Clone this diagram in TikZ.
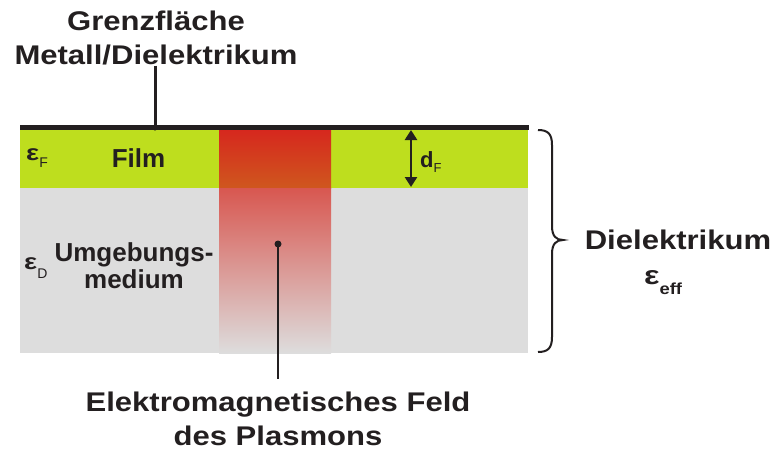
\documentclass[tikz,border=0pt]{standalone}
\usepackage{fontspec}
\setmainfont{Liberation Sans}
\newfontfamily\widefont{Liberation Sans}[FakeStretch=1.15]
\newfontfamily\epsfont{Liberation Sans}[FakeStretch=1.25]
\usetikzlibrary{arrows.meta}

\definecolor{ink}{RGB}{35,31,32}
\definecolor{filmgreen}{RGB}{190,222,30}
\definecolor{mediumgray}{RGB}{221,221,221}
\definecolor{plasred}{RGB}{214,40,30}
\definecolor{filmred}{RGB}{207,87,30}
\definecolor{medred}{RGB}{216,87,80}

\begin{document}
\begin{tikzpicture}[x=1pt,y=-1pt,
  txt/.style={text=ink, inner sep=0pt},
  bigwide/.style={txt, align=center, font=\widefont\fontsize{27}{34}\bfseries\selectfont},
  layerlbl/.style={txt, align=center, font=\fontsize{26}{27}\bfseries\selectfont},
  epsbig/.style={txt, font=\epsfont\fontsize{22}{22}\bfseries\selectfont},
  subtxt/.style={font=\normalfont\fontsize{14}{14}\selectfont},
  pointer/.style={ink, line width=2.5pt},
  thickness/.style={ink, line width=2.5pt, >={Triangle[width=12pt,length=10pt]}, <->}]
\useasboundingbox (0,0) rectangle (773,450);

% layers: surrounding medium and film
\fill[mediumgray] (20,130) rectangle (528,353);
\fill[filmgreen] (20,130) rectangle (528,188);

% electromagnetic field of the plasmon, fading downwards
\shade[top color=plasred, bottom color=filmred] (219,130) rectangle (331,188);
\shade[top color=medred, bottom color=mediumgray] (219,188) rectangle (331,353);

% metal/dielectric interface
\draw[ink, line width=5pt] (20,127.5) -- (529,127.5);

% interface label
\node[bigwide, anchor=north] (grenz) at (156,11) {Grenzfläche\\Metall/Dielektrikum};
\coordinate (gdot) at (155,127.5);
\draw[pointer, line width=3pt] (grenz.south -| gdot) -- (gdot);
\fill[ink] (gdot) circle[radius=3pt];

% film labels
\node[epsbig, anchor=base west] (epsF) at (26,160)
  {ε\raisebox{-7pt}{\normalfont\fontsize{14}{14}\selectfont F}};
\node[layerlbl, anchor=base] (filmlbl) at (138.5,167) {Film};

% film thickness
\coordinate (dtop) at (411,130);
\coordinate (dbot) at (411,187);
\draw[thickness] (dtop) -- (dbot);
\node[txt, anchor=base west, font=\fontsize{22}{22}\bfseries\selectfont] (dF) at (420,167)
  {d\raisebox{-5pt}{\normalfont\fontsize{13}{13}\selectfont F}};

% surrounding medium labels
\node[epsbig, anchor=base west] (epsD) at (24,269)
  {ε\raisebox{-9pt}{\normalfont\fontsize{14}{14}\selectfont D}};
\node[layerlbl, anchor=north] (umg) at (134,242) {Umgebungs-\\medium};

% effective dielectric
\draw[ink, line width=2pt] (538,130) .. controls (548,130) and (552,134) .. (552,145)
  -- (552,226) .. controls (552,236) and (556,240) .. (563,240)
  .. controls (556,240) and (552,244) .. (552,254)
  -- (552,337) .. controls (552,348) and (548,352) .. (538,352);
\node[bigwide, anchor=base] (diel) at (678,249) {Dielektrikum};
\node[txt, anchor=base west, font=\epsfont\fontsize{26}{26}\bfseries\selectfont] (epseff) at (644,284)
  {ε\raisebox{-10pt}{\widefont\fontsize{16}{16}\bfseries\selectfont eff}};

% field label
\node[bigwide, anchor=north] (feld) at (278,392) {Elektromagnetisches Feld\\des Plasmons};
\coordinate (fdot) at (278,244);
\draw[pointer] (fdot) -- ([yshift=13pt]feld.north);
\fill[ink] (fdot) circle[radius=3.5pt];
\end{tikzpicture}
\end{document}
